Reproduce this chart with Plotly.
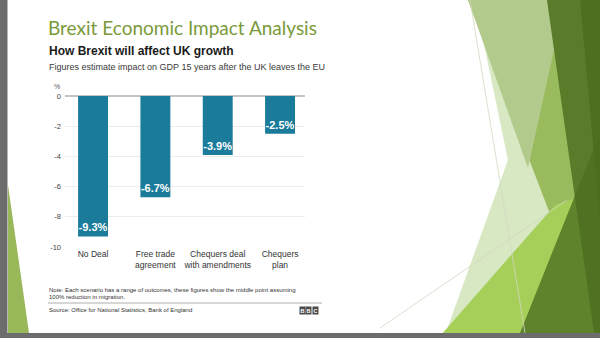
import plotly.graph_objects as go

# ---- data ----
categories = ["No Deal", "Free trade agreement", "Chequers deal with amendments", "Chequers plan"]
tick_labels = ["No Deal", "Free trade<br>agreement", "Chequers deal<br>with amendments", "Chequers<br>plan"]
gdp_impact = [-9.3, -6.7, -3.9, -2.5]
bar_labels = ["-9.3%", "-6.7%", "-3.9%", "-2.5%"]
y_ticks = [0, -2, -4, -6, -8, -10]

# ---- layout geometry (pixels) ----
FW, FH = 600, 338
L, T, W, H = 65, 96, 240, 151


def P(x, y):
    return (x - L) / W, 1 - (y - T) / H


def path(pts):
    s = ""
    for i, (x, y) in enumerate(pts):
        px, py = P(x, y)
        s += ("M" if i == 0 else "L") + f"{px:.4f},{py:.4f} "
    return s + "Z"


fig = go.Figure()
fig.add_trace(go.Bar(
    x=categories, y=gdp_impact, width=0.48,
    marker=dict(color="#1a7b9b", line=dict(width=0)),
    text=bar_labels, textposition="inside", insidetextanchor="end", constraintext="none",
    textfont=dict(family="Liberation Sans", size=11, color="white", weight="bold"),
    textangle=0, hoverinfo="skip",
))

shapes = []
# slide decorations (background), opaque layers in drawing order
deco = [
    ([(480, 25), (508, 160), (445, 335), (560, 335), (560, 25)], "#d7e8c3", 1.0),
    ([(468, 0), (600, 0), (600, 260), (560, 240)], "#9aba5e", 1.0),
    ([(468, 0), (565, 0), (528, 168)], "#b2cb8c", 1.0),
    ([(441, 335), (555, 205), (600, 190), (600, 335)], "#a6cf5a", 1.0),
    ([(547, 0), (600, 0), (600, 333), (594, 333)], "#5a7b2a", 1.0),
    ([(520, 333), (600, 333), (600, 133)], "#4e6f20", 0.8),
    ([(580, 0), (600, 0), (600, 220)], "#4c6b1e", 0.8),
    ([(8, 185), (8, 333), (29, 333)], "#98b85a", 1.0),
]
for pts, col, op in deco:
    shapes.append(dict(type="path", path=path(pts), xref="paper", yref="paper",
                       fillcolor=col, opacity=op, line=dict(width=0), layer="below"))
# thin decorative lines
for (x0, y0, x1, y1) in [(470, 0, 525, 333), (380, 328, 567, 200)]:
    a, b = P(x0, y0)
    c, d = P(x1, y1)
    shapes.append(dict(type="line", x0=a, y0=b, x1=c, y1=d, xref="paper", yref="paper",
                       line=dict(color="#d2d8c2", width=0.8), layer="below"))
# gray slide border
for (x0, y0, x1, y1) in [(0, 0, 7.5, 338), (0, 333, 600, 338)]:
    a, b = P(x0, y0)
    c, d = P(x1, y1)
    shapes.append(dict(type="rect", x0=a, y0=b, x1=c, y1=d, xref="paper", yref="paper",
                       fillcolor="#6c6c6c", line=dict(width=0), layer="above"))
# separator above source
a, b = P(48, 303)
c, d = P(322, 303)
shapes.append(dict(type="line", x0=a, y0=b, x1=c, y1=d, xref="paper", yref="paper",
                   line=dict(color="#9a9a9a", width=0.8)))

ann = []


def text(x, y, s, size, color, family="Liberation Sans", xanchor="left", weight="normal", **kw):
    px, py = P(x, y)
    ann.append(dict(x=px, y=py, xref="paper", yref="paper", text=s, showarrow=False,
                    xanchor=xanchor, yanchor="middle", align="left",
                    font=dict(family=family, size=size, color=color, weight=weight), **kw))


text(46, 28, "Brexit Economic Impact Analysis", 19, "#7a9a3a", family="Lato")
text(47, 51, "How Brexit will affect UK growth", 12, "#1a1a1a", weight="bold")
text(47, 67, "Figures estimate impact on GDP 15 years after the UK leaves the EU", 9, "#3a3a3a")
text(62, 86, "%", 7, "#555555", xanchor="right")
text(47, 290, "Note: Each scenario has a range of outcomes, these figures show the middle point assuming", 6, "#333333")
text(47, 297, "100% reduction in migration.", 6, "#333333")
text(47, 310, "Source: Office for National Statistics, Bank of England", 6, "#333333")
for i, ch in enumerate("BBC"):
    text(302 + i * 6.5, 310, ch, 5.5, "white", xanchor="center", weight="bold",
         bgcolor="#4a4a4a", borderpad=0.5)

fig.update_layout(
    width=FW, height=FH,
    margin=dict(l=L, r=FW - L - W, t=T, b=FH - T - H, pad=0),
    paper_bgcolor="white", plot_bgcolor="white",
    showlegend=False, bargap=0.2,
    shapes=shapes, annotations=ann,
    xaxis=dict(type="category", range=[-0.45, 3.4], tickvals=categories, ticktext=tick_labels,
               tickfont=dict(family="Liberation Sans", size=8.5, color="#333333"),
               showgrid=False, zeroline=False, showline=False, ticks=""),
    yaxis=dict(range=[-10, 0], tickvals=y_ticks, ticktext=[str(v) for v in y_ticks],
               tickfont=dict(family="Liberation Sans", size=7.5, color="#444444"),
               showgrid=True, gridcolor="#ececec", gridwidth=1,
               zeroline=True, zerolinecolor="#c4c4c4", zerolinewidth=1.5,
               showline=False, ticks="", ticklabelstandoff=3),
)

fig.write_html("out.html")
